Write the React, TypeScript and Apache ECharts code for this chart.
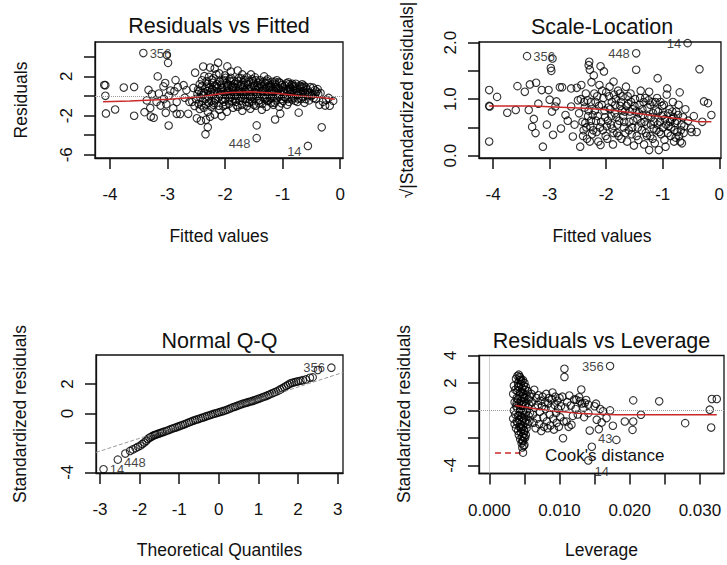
import React, { useEffect, useRef } from "react";
import * as echarts from "echarts";

const FONT = '"Liberation Sans", Arial, Helvetica, sans-serif';

// ---------- Panel 1: Residuals vs Fitted ----------
const rfPoints: number[][] = [
  [-4.10,1.12],[-4.08,1.10],[-4.08,0.02],[-4.07,-1.78],[-3.91,-1.38],[-3.76,0.86],[-3.58,0.92],[-3.58,-2.02],
  [-3.33,0.62],[-3.30,-1.22],[-3.29,-2.10],[-3.24,-2.22],[-3.27,0.18],[-3.36,-0.45],[-3.40,-1.65],
  [-3.17,2.0],[-3.15,0.25],[-3.12,-0.98],[-3.19,-0.6],
  [-3.01,4.18],[-2.99,3.38],[-3.04,1.32],[-3.07,0.98],[-2.98,0.02],[-3.06,-0.32],[-3.02,-0.85],[-3.03,-1.72],[-2.98,-3.02],[-2.95,0.55],
  [-2.86,1.62],[-2.82,0.9],[-2.88,0.48],[-2.84,-0.62],[-2.9,-1.25],[-2.84,-1.82],[-2.78,-1.84],
  [-2.67,0.6],[-2.7,-0.18],[-2.62,-0.6],[-2.64,-1.82],[-2.72,1.1],
  [-2.52,2.38],[-2.55,0.82],[-2.48,0.2],[-2.5,-0.28],[-2.46,-0.8],[-2.53,-1.02],[-2.44,-1.32],[-2.49,-2.28],[-2.42,-2.52],[-2.57,-0.6],[-2.45,0.5],
  [-2.38,3.0],[-2.26,2.9],[-2.36,2.02],[-2.32,1.5],[-2.4,1.02],[-2.3,0.5],[-2.38,0.1],[-2.34,-0.3],[-2.28,-0.7],[-2.37,-1.2],[-2.3,-1.6],[-2.26,-2.12],[-2.33,-2.42],[-2.3,-3.2],[-2.34,-3.9],[-2.41,-0.95],[-2.27,0.85],
  [-2.12,3.4],[-2.18,2.8],[-2.1,2.3],[-2.2,1.8],[-2.14,1.2],[-2.22,0.72],[-2.08,0.2],[-2.16,-0.3],[-2.2,-0.9],[-2.1,-1.4],[-2.18,-1.9],[-2.06,-2.05],[-2.13,0.45],[-2.24,-0.5],[-2.04,1.55],
  [-1.96,3.02],[-1.9,2.5],[-2.0,2.1],[-1.92,1.7],[-1.98,1.3],[-1.88,0.9],[-1.95,0.5],[-1.9,0.12],[-2.0,-0.3],[-1.93,-0.8],[-1.86,-1.2],[-1.97,-1.6],[-1.9,1.1],[-1.84,0.3],
  [-1.78,2.6],[-1.7,2.2],[-1.76,1.8],[-1.68,1.4],[-1.74,1.0],[-1.66,0.6],[-1.8,0.2],[-1.72,-0.2],[-1.64,-0.62],[-1.78,-1.1],[-1.7,-1.5],[-1.62,1.9],[-1.75,0.4],
  [-1.55,2.2],[-1.48,1.9],[-1.52,1.5],[-1.44,1.1],[-1.58,0.7],[-1.46,0.3],[-1.54,-0.1],[-1.42,-0.5],[-1.5,-0.9],[-1.56,-1.3],[-1.45,-3.0],[-1.4,0.85],
  [-1.32,2.0],[-1.26,1.7],[-1.3,1.3],[-1.22,0.9],[-1.34,0.5],[-1.24,0.1],[-1.3,-0.3],[-1.2,-0.7],[-1.28,-1.1],[-1.36,-1.4],[-1.18,1.45],
  [-1.1,1.6],[-1.04,1.3],[-1.12,0.9],[-1.0,0.5],[-1.08,0.1],[-1.02,-0.3],[-1.14,-0.7],[-1.06,-1.1],[-1.04,-1.8],[-1.13,-2.4],[-0.96,1.05],
  [-0.9,1.4],[-0.84,1.1],[-0.88,0.7],[-0.8,0.3],[-0.86,-0.1],[-0.78,-0.5],[-0.92,-0.9],[-0.82,0.95],
  [-0.66,1.2],[-0.6,0.9],[-0.64,0.5],[-0.58,0.1],[-0.68,-0.3],[-0.62,-0.7],[-0.72,-1.7],[-0.7,0.75],
  [-0.44,0.6],[-0.38,0.2],[-0.42,-0.3],[-0.32,-3.2],[-0.36,-0.9],[-0.5,0.0],
  [-0.26,-0.98],[-0.18,-1.0],[-0.12,-0.5],[-0.2,-0.2],
  [-2.44,1.2],[-2.41,0.3],[-2.39,-0.5],[-2.35,0.75],[-2.31,1.25],[-2.29,-0.05],[-2.25,0.4],[-2.23,1.65],[-2.19,-0.7],[-2.15,0.95],
  [-2.11,-0.15],[-2.09,1.45],[-2.07,0.6],[-2.03,-1.05],[-2.01,0.25],[-1.99,1.85],[-1.97,0.75],[-1.94,-0.45],[-1.91,1.5],[-1.89,-0.1],
  [-1.86,0.65],[-1.83,1.25],[-1.81,-0.6],[-1.79,0.0],[-1.77,1.5],[-1.73,0.35],[-1.71,-0.9],[-1.69,0.85],[-1.67,1.65],[-1.65,-0.3],
  [-1.63,0.15],[-1.6,1.2],[-1.58,-0.7],[-1.56,0.45],[-1.53,1.7],[-1.51,0.05],[-1.49,-0.3],[-1.47,0.6],[-1.43,1.35],[-1.41,-0.75],
  [-1.38,0.2],[-1.36,1.0],[-1.33,-0.15],[-1.31,0.7],[-1.28,1.55],[-1.25,-0.5],[-1.23,0.35],[-1.21,1.1],[-1.19,-0.2],[-1.16,0.65],
  [-1.14,1.25],[-1.11,-0.45],[-1.09,0.3],[-1.07,0.8],[-1.05,-0.05],[-1.01,1.1],[-0.99,-0.5],[-0.97,0.25],[-0.94,0.7],[-0.91,-0.3],
  [-0.89,1.2],[-0.87,0.4],[-0.83,-0.35],[-0.81,0.55],[-0.79,1.0],[-0.76,0.1],[-0.74,-0.6],[-0.71,0.4],[-0.68,0.95],[-0.65,-0.1],
  [-0.61,0.3],[-0.57,0.65],[-0.54,-0.45],[-0.52,0.3],[-0.47,0.85],[-0.46,-0.2],[-0.41,0.45],[-0.34,0.3],[-0.3,-0.6],[-0.24,-0.4],
  [-2.21,0.15],[-2.17,1.05],[-2.05,0.85],[-2.02,-0.6],[-1.95,1.15],[-1.87,0.45],[-1.82,-0.3],[-1.72,1.15],[-1.68,0.1],[-1.61,0.75],
  [-1.57,-0.35],[-1.5,1.05],[-1.45,0.2],[-1.39,1.6],[-1.35,0.55],[-1.27,-0.2],[-1.19,0.5],[-1.13,1.45],[-1.03,0.6],[-0.95,-0.15],
  [-0.86,0.75],[-0.77,1.25],[-0.73,0.15],[-0.63,1.05],[-0.55,0.05],
  [-2.47,0.65],[-2.43,-0.15],[-2.4,1.6],[-2.36,0.35],[-2.33,-0.85],[-2.32,0.95],[-2.28,1.95],[-2.26,0.15],[-2.24,-1.1],[-2.22,1.35],
  [-2.19,0.5],[-2.17,-0.45],[-2.15,2.2],[-2.13,0.8],[-2.11,-1.0],[-2.09,0.05],[-2.07,1.15],[-2.05,-0.4],[-2.03,0.45],[-2.01,1.6],
  [-1.99,-0.9],[-1.98,0.1],[-1.96,1.0],[-1.94,0.3],[-1.92,-0.2],[-1.9,1.85],[-1.88,-0.55],[-1.86,0.95],[-1.85,1.55],[-1.83,0.05],
  [-1.81,0.8],[-1.8,-0.95],[-1.78,1.25],[-1.76,0.55],[-1.74,-0.5],[-1.72,1.8],[-1.7,0.2],[-1.68,-0.25],[-1.66,1.1],[-1.64,0.45],
  [-1.62,-1.05],[-1.6,0.6],[-1.59,1.45],[-1.57,0.0],[-1.55,0.9],[-1.53,-0.55],[-1.51,1.3],[-1.49,0.4],[-1.47,-1.0],[-1.46,1.6],
  [-1.44,0.0],[-1.42,0.75],[-1.4,-0.4],[-1.38,1.2],[-1.37,0.45],[-1.35,-0.8],[-1.33,1.45],[-1.31,0.1],[-1.29,0.9],[-1.27,-0.5],
  [-1.25,1.3],[-1.23,0.6],[-1.21,-0.25],[-1.2,0.95],[-1.18,0.2],[-1.16,-0.9],[-1.14,0.5],[-1.12,1.15],[-1.1,-0.15],[-1.08,0.65],
  [-1.06,1.4],[-1.04,0.2],[-1.02,-0.75],[-1.0,0.9],[-0.98,0.45],[-0.96,-0.1],[-0.93,1.3],[-0.91,0.6],[-0.89,-0.6],[-0.87,0.95],
  [-0.85,0.2],[-0.83,1.25],[-0.81,-0.15],[-0.78,0.75],[-0.76,0.35],[-0.73,-0.25],[-0.7,1.05],[-0.67,0.2],[-0.64,0.85],[-0.6,-0.3],
  [-0.56,0.4],[-0.52,0.9],[-0.48,0.1],[-0.43,0.25],[-0.39,0.7],
];
const rfIdPoints: number[][] = [[-3.42, 4.38], [-1.45, -4.3], [-0.56, -5.1]];
const rfIdLabels: string[] = ["356", "448", "14"];
const rfLowess: number[][] = [
  [-4.12,-0.58],[-3.65,-0.52],[-2.96,-0.34],[-2.43,-0.07],[-1.97,0.34],[-1.57,0.44],[-1.10,0.27],[-0.70,0.0],[-0.35,-0.14],[-0.09,-0.34],
];
const rfXTicks = [-4, -3, -2, -1, 0];
const rfYTicks = [-6, -4, -2, 0, 2, 4];
const rfYLabels = [-6, -2, 2];

// ---------- Panel 2: Scale-Location ----------
const slPoints: number[][] = [
  [-4.07,1.16],[-4.07,0.88],[-4.06,0.87],[-4.07,0.25],[-3.93,1.04],[-3.75,0.76],[-3.6,0.81],[-3.57,1.23],[-3.44,1.13],
  [-3.35,1.26],[-3.37,0.81],[-3.28,0.65],[-3.31,0.51],[-3.25,0.40],[-3.24,1.29],[-3.14,1.16],[-3.02,1.16],[-3.12,0.16],[-3.20,0.92],
  [-2.95,1.72],[-2.98,1.55],[-2.97,1.50],[-3.0,0.99],[-2.96,0.78],[-2.9,0.87],[-2.88,0.96],[-2.94,0.37],[-2.8,0.48],[-3.05,0.55],
  [-2.82,1.21],[-2.78,1.21],[-2.72,0.72],[-2.68,0.62],[-2.62,1.19],[-2.62,0.87],[-2.59,0.34],[-2.52,1.2],[-2.56,0.55],[-2.5,0.98],
  [-2.46,0.16],[-2.44,1.25],[-2.42,0.6],[-2.4,0.45],[-2.38,0.85],[-2.36,1.1],[-2.34,0.3],[-2.32,0.7],[-2.3,1.66],[-2.31,1.6],[-2.29,1.52],[-2.28,0.52],[-2.27,0.95],[-2.26,1.3],[-2.25,0.38],
  [-2.22,1.42],[-2.2,0.8],[-2.18,0.62],[-2.16,1.05],[-2.14,0.25],[-2.12,1.25],[-2.1,1.58],[-2.1,0.19],[-2.08,0.9],[-2.06,0.45],[-2.04,1.49],[-2.02,0.68],[-2.0,1.12],[-1.98,0.3],[-1.96,0.85],
  [-1.94,1.22],[-1.92,0.55],[-1.9,0.95],[-1.88,0.2],[-1.87,1.31],[-1.85,0.75],[-1.83,1.0],[-1.81,0.4],[-1.79,1.15],[-1.77,0.62],[-1.75,0.88],[-1.73,0.3],[-1.71,1.05],[-1.69,0.5],[-1.67,0.78],[-1.65,1.22],
  [-1.63,0.25],[-1.61,0.92],[-1.59,0.6],[-1.57,1.1],[-1.55,0.38],[-1.53,0.82],[-1.51,0.18],[-1.49,1.0],[-1.47,1.52],[-1.45,0.65],[-1.43,0.28],[-1.41,0.9],[-1.39,1.15],[-1.37,0.45],[-1.35,0.72],
  [-1.33,0.2],[-1.31,1.02],[-1.29,0.55],[-1.27,0.85],[-1.24,1.13],[-1.24,0.1],[-1.22,0.35],[-1.2,0.68],[-1.18,0.95],[-1.16,0.48],[-1.14,0.22],[-1.12,0.8],[-1.1,1.02],[-1.09,1.37],[-1.07,0.1],[-1.05,0.6],
  [-1.03,0.38],[-1.01,0.88],[-0.99,0.72],[-0.97,0.28],[-0.95,0.16],[-0.93,1.08],[-0.92,1.19],[-0.9,0.52],[-0.88,0.82],[-0.86,0.35],[-0.84,0.65],[-0.82,0.95],[-0.8,0.25],[-0.78,0.58],[-0.76,0.78],
  [-0.74,0.42],[-0.72,0.9],[-0.7,1.12],[-0.69,0.25],[-0.66,0.22],[-0.64,0.68],[-0.62,0.52],[-0.6,0.82],[-0.55,0.62],[-0.5,0.48],[-0.49,0.42],[-0.45,0.7],[-0.4,0.42],[-0.35,1.53],[-0.3,0.6],[-0.27,0.96],[-0.2,0.93],[-0.14,0.72],
  [-2.48,0.75],[-2.45,1.0],[-2.41,0.35],[-2.37,0.58],[-2.33,0.98],[-2.29,0.25],[-2.24,0.72],[-2.21,1.1],[-2.17,0.42],[-2.13,0.88],
  [-2.09,0.6],[-2.05,1.02],[-2.01,0.35],[-1.97,0.62],[-1.93,0.82],[-1.89,0.48],[-1.86,1.08],[-1.82,0.68],[-1.78,0.35],[-1.74,0.95],
  [-1.7,0.7],[-1.66,0.4],[-1.62,1.05],[-1.58,0.78],[-1.54,0.5],[-1.5,0.88],[-1.46,0.35],[-1.42,0.75],[-1.38,0.58],[-1.34,0.95],
  [-1.3,0.4],[-1.26,0.7],[-1.22,0.9],[-1.18,0.3],[-1.15,0.6],[-1.11,0.45],[-1.08,0.78],[-1.04,0.95],[-1.0,0.5],[-0.96,0.65],
  [-0.91,0.4],[-0.87,0.6],[-0.83,0.78],[-0.79,0.45],[-0.75,0.62],[-0.71,0.35],[-0.67,0.55],[-0.63,0.4],
  [-2.39,0.95],[-2.35,0.5],[-2.31,0.8],[-2.27,0.62],[-2.23,0.45],[-2.19,0.95],[-2.15,0.7],[-2.11,0.5],[-2.07,1.15],[-2.03,0.8],
  [-1.99,0.52],[-1.95,1.05],[-1.91,0.7],[-1.87,0.4],[-1.84,0.9],[-1.8,0.55],[-1.76,1.1],[-1.72,0.8],[-1.68,0.6],[-1.64,0.88],
  [-1.6,0.45],[-1.56,0.95],[-1.52,0.62],[-1.48,0.78],[-1.44,0.5],[-1.4,1.02],[-1.36,0.82],[-1.32,0.6],[-1.28,0.35],[-1.25,0.98],
  [-1.21,0.55],[-1.17,0.75],[-1.13,0.95],[-1.09,0.55],[-1.06,0.42],[-1.02,0.7],[-0.98,0.9],[-0.94,0.55],[-0.9,0.75],[-0.85,0.5],
  [-0.81,0.68],[-0.77,0.32],[-0.73,0.72],[-0.68,0.45],
];
const slIdPoints: number[][] = [[-3.40, 1.76], [-1.47, 1.81], [-0.56, 1.99]];
const slIdLabels: string[] = ["356", "448", "14"];
const slLowess: number[][] = [
  [-4.07,0.88],[-3.31,0.88],[-2.39,0.84],[-1.93,0.81],[-1.47,0.75],[-1.01,0.69],[-0.60,0.64],[-0.37,0.60],[-0.14,0.60],
];
const slXTicks = [-4, -3, -2, -1, 0];
const slYTicks = [0, 0.5, 1, 1.5, 2];
const slYLabels = [0, 1, 2];

// ---------- Panel 3: Normal Q-Q ----------
const qqPoints: number[][] = [
  [-2.36,-2.73],[-2.24,-2.55],[-2.17,-2.45],[-2.10,-2.36],[-2.04,-2.27],[-1.98,-2.19],[-1.93,-2.08],[-1.88,-1.98],
  [-1.83,-1.86],[-1.79,-1.74],[-1.75,-1.66],[-1.71,-1.60],[-1.67,-1.53],[-1.63,-1.49],[-1.60,-1.45],[-1.56,-1.41],
  [-1.52,-1.38],[-1.48,-1.34],[-1.44,-1.30],[-1.40,-1.26],[-1.35,-1.22],[-1.30,-1.17],[-1.25,-1.12],[-1.20,-1.06],
  [-1.15,-1.01],[-1.10,-0.97],[-1.05,-0.92],[-1.00,-0.87],[-0.95,-0.82],[-0.90,-0.77],[-0.85,-0.72],[-0.80,-0.66],
  [-0.75,-0.61],[-0.70,-0.56],[-0.65,-0.50],[-0.60,-0.45],[-0.55,-0.41],[-0.50,-0.37],[-0.45,-0.32],[-0.40,-0.28],
  [-0.35,-0.23],[-0.30,-0.18],[-0.25,-0.14],[-0.20,-0.09],[-0.15,-0.05],[-0.10,-0.01],[-0.05,0.03],[0.00,0.07],
  [0.05,0.11],[0.10,0.15],[0.15,0.19],[0.20,0.24],[0.25,0.29],[0.30,0.35],[0.35,0.41],[0.40,0.45],
  [0.45,0.50],[0.50,0.55],[0.55,0.60],[0.60,0.65],[0.65,0.69],[0.70,0.73],[0.75,0.77],[0.80,0.81],
  [0.85,0.85],[0.90,0.89],[0.95,0.94],[1.00,0.99],[1.05,1.04],[1.10,1.09],[1.15,1.14],[1.20,1.19],
  [1.25,1.25],[1.30,1.31],[1.35,1.37],[1.40,1.43],[1.45,1.48],[1.50,1.55],[1.55,1.63],[1.60,1.70],
  [1.65,1.78],[1.70,1.86],[1.75,1.95],[1.80,2.03],[1.85,2.08],[1.90,2.11],[1.95,2.15],[2.00,2.18],
  [2.06,2.22],[2.12,2.26],[2.20,2.31],[2.30,2.42],[2.37,2.45],[2.50,2.95],
];
const qqIdPoints: number[][] = [[-2.91, -3.80], [-2.55, -3.14], [2.84, 3.11]];
const qqIdLabels: string[] = ["14", "448", "356"];
const qqRefLine: number[][] = [[-3.10, -2.65], [3.13, 2.78]];
const qqXTicks = [-3, -2, -1, 0, 1, 2, 3];
const qqYTicks = [-4, -2, 0, 2];
const qqYLabels = [-4, 0, 2];

// ---------- Panel 4: Residuals vs Leverage ----------
const lvPoints: number[][] = [
  [0.0035,1.8],[0.0034,1.2],[0.0036,0.6],[0.0035,0.0],[0.0034,-0.6],[0.0036,-1.0],
  [0.0038,2.3],[0.0037,1.5],[0.0039,0.9],[0.0038,0.3],[0.0037,-0.3],[0.0039,-0.8],[0.0038,-1.3],
  [0.0040,2.5],[0.0041,2.0],[0.0040,1.4],[0.0041,0.8],[0.0040,0.2],[0.0041,-0.4],[0.0040,-0.9],[0.0041,-1.5],
  [0.0042,2.6],[0.0043,2.2],[0.0042,1.7],[0.0043,1.1],[0.0042,0.5],[0.0043,-0.1],[0.0042,-0.7],[0.0043,-1.2],[0.0042,-1.8],
  [0.0044,2.4],[0.0045,1.9],[0.0044,1.3],[0.0045,0.7],[0.0044,0.1],[0.0045,-0.5],[0.0044,-1.0],[0.0045,-1.6],[0.0044,-2.1],
  [0.0046,2.1],[0.0047,1.6],[0.0046,1.0],[0.0047,0.4],[0.0046,-0.2],[0.0047,-0.8],[0.0046,-1.4],[0.0047,-1.9],[0.0046,-2.4],[0.0047,-2.7],
  [0.0048,2.2],[0.0049,1.8],[0.0048,1.2],[0.0049,0.6],[0.0048,0.0],[0.0049,-0.6],[0.0048,-1.2],[0.0049,-1.7],[0.0048,-2.2],[0.0049,-2.6],[0.0048,-3.08],
  [0.0050,2.0],[0.0051,1.5],[0.0050,0.9],[0.0051,0.3],[0.0050,-0.3],[0.0051,-0.9],[0.0050,-1.5],[0.0051,-2.0],[0.0050,-2.5],
  [0.0052,1.7],[0.0053,1.1],[0.0052,0.5],[0.0053,-0.1],[0.0052,-0.7],[0.0053,-1.3],[0.0052,-1.8],
  [0.0055,1.4],[0.0056,0.8],[0.0055,0.2],[0.0056,-0.4],[0.0055,-1.0],
  [0.0058,1.0],[0.0057,0.4],[0.0058,-0.2],[0.0057,-0.8],
  [0.0043,2.45],[0.0045,2.25],[0.0041,1.75],[0.0047,1.35],[0.0039,0.55],[0.0049,0.95],[0.0045,0.35],[0.0043,-0.35],[0.0047,-0.55],[0.0045,-1.25],[0.0049,-1.45],[0.0047,-2.25],[0.0049,-2.0],
  [0.0060,1.2],[0.0061,0.6],[0.0062,-0.3],[0.0063,-0.9],[0.0064,1.5],[0.0065,0.2],[0.0066,-1.3],[0.0067,0.9],[0.0068,-0.6],[0.0069,0.4],
  [0.0070,1.1],[0.0071,-1.0],[0.0072,-0.1],[0.0073,0.7],[0.0074,-1.5],[0.0075,0.3],[0.0076,1.0],[0.0077,-0.5],[0.0078,-1.2],[0.0079,0.6],
  [0.0080,0.1],[0.0081,1.2],[0.0082,-0.8],[0.0083,-1.3],[0.0084,0.5],[0.0085,0.9],[0.0086,-0.3],[0.0087,-1.1],[0.0088,0.2],[0.0089,0.8],
  [0.0090,1.3],[0.0091,-0.6],[0.0092,-1.4],[0.0093,0.4],[0.0094,1.0],[0.0095,-0.2],[0.0096,-0.9],[0.0097,0.7],[0.0098,0.1],[0.0099,-1.2],
  [0.0100,0.9],[0.0101,-0.5],[0.0102,0.3],[0.0104,1.0],[0.0105,-2.03],[0.0106,-0.8],[0.0107,3.03],[0.0107,2.44],[0.0108,0.2],[0.0110,-0.81],
  [0.0111,0.6],[0.0113,-1.2],[0.0114,1.08],[0.0116,0.35],[0.0117,-1.05],[0.0119,-0.4],[0.0121,0.8],[0.0123,0.1],[0.0124,0.78],[0.0126,-0.3],
  [0.0128,0.95],[0.0129,0.66],[0.0131,1.52],[0.0132,0.5],[0.0134,0.2],[0.0135,-0.49],[0.0136,0.54],[0.0138,0.75],[0.0141,0.42],[0.0141,-0.2],
  [0.0143,-1.47],[0.0150,0.3],[0.0152,0.49],[0.0153,-0.68],[0.0156,-1.37],[0.0158,0.1],[0.0160,-0.88],[0.0162,-0.07],[0.0167,-0.56],[0.0172,0.0],
  [0.0176,-1.12],[0.0181,-2.15],[0.0193,-0.81],[0.0205,0.73],[0.0205,-0.81],[0.0204,-1.42],[0.0216,-0.32],[0.0242,0.66],[0.0279,-0.93],
  [0.0314,0.05],[0.0316,-1.25],[0.0317,0.83],[0.0324,0.83],
];
const lvIdPoints: number[][] = [[0.0172, 3.23], [0.0146, -2.65], [0.0141, -3.65]];
const lvIdLabels: string[] = ["356", "43", "14"];
const lvLowess: number[][] = [
  [0.0037,0.35],[0.0050,0.25],[0.0067,0.10],[0.0085,0.0],[0.0101,-0.08],[0.0125,-0.20],[0.0148,-0.27],[0.0180,-0.31],[0.0324,-0.32],
];
const lvXTicks = [0, 0.005, 0.01, 0.015, 0.02, 0.025, 0.03];
const lvXLabels = [0, 0.01, 0.02, 0.03];
const lvYTicks = [-4, -2, 0, 2, 4];
const lvYLabels = [-4, 0, 2, 4];

const RED = "#cc2a2a";
const GRAY = "#9a9a9a";
const INK = "#111";

function xAxis(gi: number, min: number, max: number, ticks: number[], labels: number[], fmt?: (v: number) => string) {
  return {
    type: "value", gridIndex: gi, min, max, position: "bottom",
    axisLine: { show: true, onZero: false, lineStyle: { color: INK, width: 1.3 } },
    axisTick: { show: true, customValues: ticks, length: 11, lineStyle: { color: INK, width: 1.5 } },
    axisLabel: {
      show: true, customValues: labels, margin: 28, color: INK, fontSize: 17, fontFamily: FONT,
      formatter: fmt ? (v: number) => fmt(v) : (v: number) => String(v),
    },
    splitLine: { show: false },
  };
}
function yAxis(gi: number, min: number, max: number, ticks: number[], labels: number[], fmt?: (v: number) => string) {
  return {
    type: "value", gridIndex: gi, min, max, position: "left",
    axisLine: { show: true, onZero: false, lineStyle: { color: INK, width: 1.3 } },
    axisTick: { show: true, customValues: ticks, length: 11, lineStyle: { color: INK, width: 1.5 } },
    axisLabel: {
      show: true, customValues: labels, rotate: 90, margin: 20, color: INK, fontSize: 17, fontFamily: FONT,
      formatter: fmt ? (v: number) => fmt(v) : (v: number) => String(v),
    },
    splitLine: { show: false },
  };
}

const circleStyle = { color: "rgba(0,0,0,0)", borderColor: "#000", borderWidth: 1.1 };

function scatter(i: number, data: any[]) {
  return {
    type: "scatter", xAxisIndex: i, yAxisIndex: i, data, symbol: "circle", symbolSize: 7.5,
    itemStyle: circleStyle, silent: true, z: 3,
  };
}
function idScatter(i: number, pts: number[][], labels: string[], pos: string[], offs: number[][]) {
  return scatter(i, pts.map((p, k) => ({
    value: p,
    label: {
      show: true, formatter: labels[k], position: pos[k], distance: 2, offset: offs[k],
      color: INK, fontSize: 13, fontFamily: FONT,
    },
  })));
}
function line(i: number, data: number[][], color: string, type: string, width: number) {
  return {
    type: "line", xAxisIndex: i, yAxisIndex: i, data, symbol: "none", showSymbol: false, silent: true,
    lineStyle: { color, type, width }, clip: true, z: 4,
  };
}
function hline(i: number, y: number) {
  return {
    type: "line", xAxisIndex: i, yAxisIndex: i, data: [], silent: true,
    markLine: { silent: true, symbol: "none", label: { show: false }, animation: false,
      lineStyle: { color: GRAY, type: "dotted", width: 1 }, data: [{ yAxis: y }] },
  };
}
function vline(i: number, x: number) {
  return {
    type: "line", xAxisIndex: i, yAxisIndex: i, data: [], silent: true,
    markLine: { silent: true, symbol: "none", label: { show: false }, animation: false,
      lineStyle: { color: GRAY, type: "dotted", width: 1 }, data: [{ xAxis: x }] },
  };
}

function txt(text: string, x: number, y: number, size: number, rot = 0, align = "center") {
  return {
    type: "text", x, y, rotation: rot, silent: true,
    style: { text, fill: INK, font: `${size}px ${FONT}`, textAlign: align, textVerticalAlign: "middle", align, verticalAlign: "middle" },
  };
}

export default function App() {
  const ref = useRef<HTMLDivElement>(null);
  useEffect(() => {
    if (!ref.current) return;
    const chart = echarts.init(ref.current, null, { renderer: "svg" });
    const gridBase = { show: true, borderColor: INK, borderWidth: 1.3, backgroundColor: "transparent", containLabel: false };
    const f3 = (v: number) => v.toFixed(3);
    const f1 = (v: number) => v.toFixed(1);
    chart.setOption({
      animation: false,
      backgroundColor: "#fff",
      grid: [
        { ...gridBase, left: 95, top: 42, width: 248, height: 116 },
        { ...gridBase, left: 479, top: 42, width: 247, height: 116 },
        { ...gridBase, left: 96, top: 355, width: 247, height: 118 },
        { ...gridBase, left: 479, top: 355.5, width: 245, height: 118 },
      ],
      xAxis: [
        xAxis(0, -4.26, 0.05, rfXTicks, rfXTicks),
        xAxis(1, -4.25, 0.03, slXTicks, slXTicks),
        xAxis(2, -3.10, 3.134, qqXTicks, qqXTicks),
        xAxis(3, -0.00147, 0.03343, lvXTicks, lvXLabels, f3),
      ],
      yAxis: [
        yAxis(0, -6.33, 5.51, rfYTicks, rfYLabels),
        yAxis(1, -0.04, 2.01, slYTicks, slYLabels, f1),
        yAxis(2, -4.05, 3.97, qqYTicks, qqYLabels),
        yAxis(3, -4.6, 4.0, lvYTicks, lvYLabels),
      ],
      series: [
        hline(0, 0),
        scatter(0, rfPoints),
        idScatter(0, rfIdPoints, rfIdLabels, ["right", "left", "left"], [[0, 0], [0, 5], [0, 6]]),
        line(0, rfLowess, RED, "solid", 1.5),

        scatter(1, slPoints),
        idScatter(1, slIdPoints, slIdLabels, ["right", "left", "left"], [[0, 0], [0, 0], [0, 0]]),
        line(1, slLowess, RED, "solid", 1.5),

        line(2, qqRefLine, GRAY, "dashed", 1),
        scatter(2, qqPoints),
        idScatter(2, qqIdPoints, qqIdLabels, ["right", "right", "left"], [[0, 0], [0, 3], [0, 0]]),

        hline(3, 0),
        vline(3, 0),
        scatter(3, lvPoints),
        idScatter(3, lvIdPoints, lvIdLabels, ["left", "right", "right"], [[0, 0], [0, -8], [0, 11]]),
        line(3, lvLowess, RED, "solid", 1.5),
      ],
      graphic: [
        txt("Residuals vs Fitted", 219, 26, 21.5),
        txt("Scale-Location", 602, 27, 21.5),
        txt("Normal Q-Q", 219.5, 340.5, 21.5),
        txt("Residuals vs Leverage", 601.5, 341, 21.5),
        txt("Fitted values", 219, 236, 17.5),
        txt("Fitted values", 602, 236, 17.5),
        txt("Theoretical Quantiles", 219.5, 550, 17.5),
        txt("Leverage", 601.5, 550, 17.5),
        txt("Residuals", 21, 100, 17.5, Math.PI / 2),
        txt("√|Standardized residuals|", 407, 100, 17.5, Math.PI / 2),
        txt("Standardized residuals", 20, 414, 17.5, Math.PI / 2),
        txt("Standardized residuals", 404, 414, 17.5, Math.PI / 2),
        {
          type: "line", silent: true,
          shape: { x1: 495, y1: 453, x2: 522, y2: 453 },
          style: { stroke: RED, lineWidth: 1.5, lineDash: [6, 4] },
        },
        txt("Cook's distance", 545, 455, 17, 0, "left"),
      ],
    });
    return () => chart.dispose();
  }, []);
  return <div ref={ref} style={{ position: "absolute", left: 0, top: 0, width: 727, height: 565 }} />;
}
